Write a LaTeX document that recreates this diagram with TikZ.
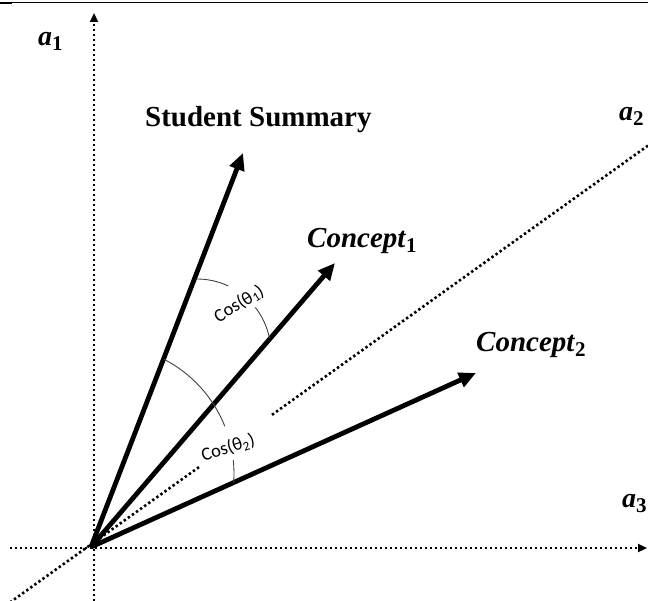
\documentclass[tikz,border=0pt]{standalone}
\usepackage{fontspec}
\setmainfont{Liberation Serif}
\newfontfamily\calib{Carlito}
\usetikzlibrary{arrows.meta}
\newcommand{\lab}[2]{\textbf{\textit{#1}}\raisebox{-5pt}{\fontsize{21}{21}\selectfont\bfseries #2}}
\begin{document}
\begin{tikzpicture}[x=1pt,y=-1pt,
  axis/.style={line width=2.6pt, dash pattern=on 2.4pt off 2.6pt, line cap=butt},
  axtip/.style={-{Triangle[length=9pt,width=8pt]}},
  vec/.style={line width=4.8pt, -{Triangle[length=17pt,width=15pt]}},
  anglearc/.style={line width=0.9pt, draw=black!75},
  coslab/.style={font=\calib\fontsize{18.5}{18.5}\selectfont, inner sep=0pt},
  axlab/.style={font=\fontsize{28}{28}\selectfont, anchor=base west, inner sep=0pt},
  veclab/.style={font=\fontsize{29}{29}\selectfont, anchor=base west, inner sep=0pt},
]
\useasboundingbox (0,0) rectangle (648,601);
% top rule
\draw[line width=1pt] (0,3) -- (648,3);
\draw[line width=2.5pt] (0,3) -- (12,3);
% coordinates
\coordinate (O) at (91,547);
\coordinate (ssT) at (243,153);
\coordinate (c1T) at (335,263);
\coordinate (c2T) at (476,373);
\coordinate (vB) at (94,601);
\coordinate (vT) at (94,13);
\coordinate (hL) at (10,548);
\coordinate (hR) at (647,548);
\coordinate (dA) at (10,602.4);
\coordinate (dB) at (200,466.4);
\coordinate (dC) at (272,414.8);
\coordinate (dD) at (648,145.6);
% axes
\draw[axis,axtip] (vB) -- (vT);
\draw[axis,axtip] (hL) -- (hR);
\draw[axis] (dA) -- (dB);
\draw[axis] (dC) -- (dD);
% vectors
\draw[vec] (O) -- (ssT);
\draw[vec] (O) -- (c1T);
\draw[vec] (O) -- (c2T);
% angle arcs
\draw[anglearc] (197,353) ++(91.5:74pt) arc[start angle=91.5,end angle=65,radius=74pt];
\draw[anglearc] (197,353) ++(38:74pt) arc[start angle=38,end angle=11.8,radius=74pt];
\draw[anglearc] (105,474) ++(62.8:129pt) arc[start angle=62.8,end angle=21.7,radius=129pt];
\draw[anglearc] (105,474) ++(6.3:129pt) arc[start angle=6.3,end angle=-4,radius=129pt];
% labels
\node[coslab, rotate=32] (t1) at (239,304) {Cos(θ\textsubscript{1})};
\node[coslab, rotate=18] (t2) at (228,448) {Cos(θ\textsubscript{2})};
\node[axlab] (a1) at (38,46) {\lab{a}{1}};
\node[axlab] (a2) at (619,121) {\lab{a}{2}};
\node[axlab] (a3) at (622,507) {\lab{a}{3}};
\node[veclab] (ss) at (145,127) {\bfseries Student Summary};
\node[veclab] (c1) at (307,248) {\lab{Concept}{1}};
\node[veclab] (c2) at (476,352) {\lab{Concept}{2}};
\end{tikzpicture}
\end{document}
